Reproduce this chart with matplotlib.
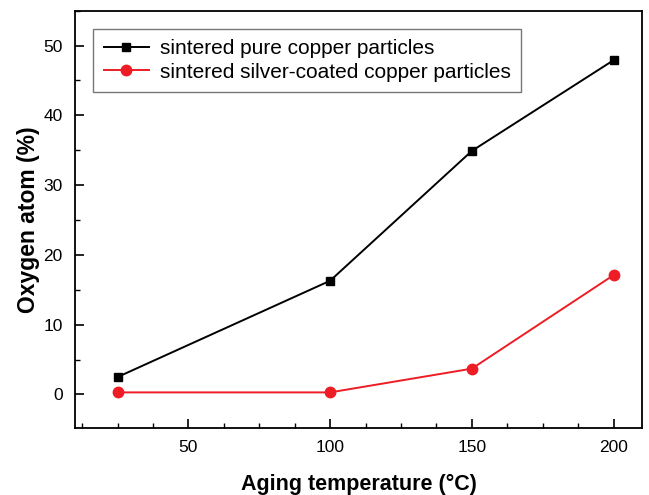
import matplotlib.pyplot as plt
from matplotlib.ticker import MultipleLocator

plt.rcParams['font.family'] = ['Liberation Sans', 'DejaVu Sans']

# ------------------ ДАННЫЕ ------------------
temps = [25, 100, 150, 200]
pure_cu = [2.5, 16.3, 34.9, 47.9]
ag_coated_cu = [0.3, 0.3, 3.7, 17.1]

label_pure = 'sintered pure copper particles'
label_ag = 'sintered silver-coated copper particles'

# ------------------ ГРАФИК ------------------
fig = plt.figure(figsize=(6.49, 4.95), dpi=100)
ax = fig.add_axes([0.1156, 0.1354, 0.8734, 0.8430])

ax.plot(temps, pure_cu, color='black', marker='s', markersize=6,
        linewidth=1.4, label=label_pure)
ax.plot(temps, ag_coated_cu, color='#ee1c25', marker='o', markersize=7.5,
        linewidth=1.4, label=label_ag)

ax.set_xlim(10, 210)
ax.set_ylim(-4.8, 55)
ax.xaxis.set_major_locator(MultipleLocator(50))
ax.xaxis.set_minor_locator(MultipleLocator(12.5))
ax.yaxis.set_major_locator(MultipleLocator(10))
ax.yaxis.set_minor_locator(MultipleLocator(5))
ax.tick_params(which='major', direction='in', length=6.5, width=1.2, labelsize=12.5, pad=9)
ax.tick_params(which='minor', direction='in', length=3.5, width=1.0)
for s in ax.spines.values():
    s.set_linewidth(1.3)

ax.set_xlabel('Aging temperature (°C)', fontsize=15.5, fontweight='bold', labelpad=13)
ax.set_ylabel('Oxygen atom (%)', fontsize=16.5, fontweight='bold', labelpad=2)

leg = ax.legend(loc='upper left', bbox_to_anchor=(0.032, 0.956), fontsize=15,
                frameon=True, fancybox=False, edgecolor='#555555',
                handlelength=2.2, borderpad=0.5, labelspacing=0.2,
                handletextpad=0.5, borderaxespad=0)
leg.get_frame().set_linewidth(1.0)

fig.savefig('out.png', dpi=100)
